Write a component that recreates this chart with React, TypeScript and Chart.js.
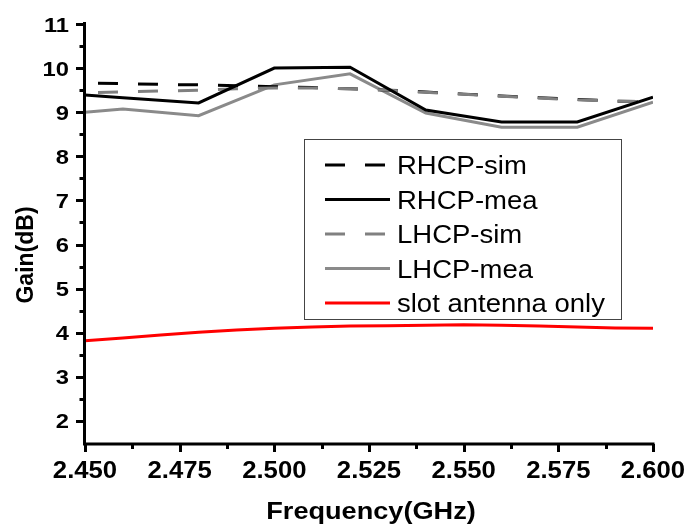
import React, { useEffect, useRef } from "react";
import { Chart, registerables } from "chart.js";

Chart.register(...registerables);

// ---- data ----
const SIM_FREQ = [2.45, 2.46, 2.47, 2.48, 2.49, 2.5, 2.51, 2.52, 2.53, 2.54, 2.55, 2.56, 2.57, 2.58, 2.59, 2.6];
const RHCP_SIM = [9.66, 9.65, 9.63, 9.62, 9.6, 9.58, 9.56, 9.53, 9.5, 9.46, 9.41, 9.37, 9.33, 9.29, 9.25, 9.24];
const LHCP_SIM = [9.44, 9.46, 9.48, 9.5, 9.53, 9.55, 9.55, 9.53, 9.5, 9.45, 9.41, 9.36, 9.32, 9.28, 9.25, 9.24];
const MEA_FREQ = [2.45, 2.46, 2.48, 2.5, 2.52, 2.54, 2.56, 2.58, 2.6];
const RHCP_MEA = [9.39, 9.33, 9.21, 10.0, 10.02, 9.05, 8.78, 8.78, 9.34];
const LHCP_MEA = [9.0, 9.07, 8.92, 9.62, 9.87, 8.98, 8.66, 8.66, 9.23];
const SLOT_ONLY = [3.82, 3.88, 3.95, 4.01, 4.06, 4.1, 4.13, 4.15, 4.16, 4.17, 4.18, 4.17, 4.15, 4.13, 4.11, 4.1];

const SERIES_LABELS = ["RHCP-sim", "RHCP-mea", "LHCP-sim", "LHCP-mea", "slot antenna only"];

const X_MIN = 2.45;
const X_MAX = 2.6;
const Y_MIN = 1.5;
const Y_MAX = 11;
const X_TICKS = [2.45, 2.475, 2.5, 2.525, 2.55, 2.575, 2.6];
const X_TICK_LABELS = ["2.450", "2.475", "2.500", "2.525", "2.550", "2.575", "2.600"];
const X_MINOR = [2.4625, 2.4875, 2.5125, 2.5375, 2.5625, 2.5875];
const Y_TICKS = [2, 3, 4, 5, 6, 7, 8, 9, 10, 11];
const Y_TICK_LABELS = ["2", "3", "4", "5", "6", "7", "8", "9", "10", "11"];
const Y_MINOR = [2.5, 3.5, 4.5, 5.5, 6.5, 7.5, 8.5, 9.5, 10.5];
const X_TITLE = "Frequency(GHz)";
const Y_TITLE = "Gain(dB)";

const FONT = "'Liberation Sans', Arial, Helvetica, sans-serif";
const SX = 1.13;

function pts(xs: number[], ys: number[]) {
  return xs.map((x, i) => ({ x, y: ys[i] }));
}

function drawText(
  ctx: CanvasRenderingContext2D,
  text: string,
  x: number,
  y: number,
  font: string,
  align: CanvasTextAlign,
  sx: number
) {
  ctx.save();
  ctx.font = font;
  ctx.fillStyle = "#000";
  ctx.translate(x, y);
  ctx.scale(sx, 1);
  ctx.textAlign = align;
  ctx.textBaseline = "alphabetic";
  ctx.fillText(text, 0, 0);
  ctx.restore();
}

const originPlugin = {
  id: "originAxes",
  afterDatasetsDraw(chart: any) {
    const ctx: CanvasRenderingContext2D = chart.ctx;
    const xs = chart.scales.x;
    const ys = chart.scales.y;
    const area = chart.chartArea;
    const axX = area.left - 0.5;
    const axY = area.bottom + 1;

    ctx.save();
    ctx.strokeStyle = "#000";
    ctx.lineWidth = 3;
    ctx.lineCap = "butt";
    // axis lines
    ctx.beginPath();
    ctx.moveTo(axX, area.top - 2);
    ctx.lineTo(axX, axY + 1.5);
    ctx.moveTo(axX - 1.5, axY);
    ctx.lineTo(area.right + 1.5, axY);
    ctx.stroke();

    // ticks
    ctx.beginPath();
    Y_TICKS.forEach((v) => {
      const py = Math.round(ys.getPixelForValue(v)) + 0.5;
      ctx.moveTo(axX - 8.5, py);
      ctx.lineTo(axX, py);
    });
    Y_MINOR.forEach((v) => {
      const py = Math.round(ys.getPixelForValue(v)) + 0.5;
      ctx.moveTo(axX - 5, py);
      ctx.lineTo(axX, py);
    });
    X_TICKS.forEach((v) => {
      const px = Math.round(xs.getPixelForValue(v)) + 0.5;
      ctx.moveTo(px, axY);
      ctx.lineTo(px, axY + 8);
    });
    X_MINOR.forEach((v) => {
      const px = Math.round(xs.getPixelForValue(v)) + 0.5;
      ctx.moveTo(px, axY);
      ctx.lineTo(px, axY + 5);
    });
    ctx.stroke();
    ctx.restore();

    // tick labels
    Y_TICKS.forEach((v, i) => {
      const py = ys.getPixelForValue(v);
      drawText(ctx, Y_TICK_LABELS[i], 69, py + 7.5, "bold 21px " + FONT, "right", SX);
    });
    X_TICKS.forEach((v, i) => {
      const px = xs.getPixelForValue(v);
      drawText(ctx, X_TICK_LABELS[i], px, 478, "bold 24px " + FONT, "center", 1.07);
    });

    // axis titles
    drawText(ctx, X_TITLE, (area.left + area.right) / 2 + 2, 519, "bold 24px " + FONT, "center", SX);
    ctx.save();
    ctx.translate(33, 255);
    ctx.rotate(-Math.PI / 2);
    ctx.font = "bold 23px " + FONT;
    ctx.fillStyle = "#000";
    ctx.textAlign = "center";
    ctx.textBaseline = "alphabetic";
    ctx.fillText(Y_TITLE, 0, 0);
    ctx.restore();

    // legend
    const bx = 304, by = 139, bw = 317, bh = 180;
    ctx.save();
    ctx.fillStyle = "#fff";
    ctx.fillRect(bx, by, bw, bh);
    ctx.strokeStyle = "#444";
    ctx.lineWidth = 1;
    ctx.strokeRect(bx + 0.5, by + 0.5, bw, bh);
    ctx.restore();
    chart.data.datasets.forEach((ds: any, i: number) => {
      const cy = 165 + i * 34.5;
      ctx.save();
      ctx.strokeStyle = ds.borderColor;
      ctx.lineWidth = 3;
      if (ds.borderDash && ds.borderDash.length) {
        ctx.setLineDash([20, 20]);
        ctx.beginPath();
        ctx.moveTo(325, cy);
        ctx.lineTo(385, cy);
        ctx.stroke();
      } else {
        ctx.beginPath();
        ctx.moveTo(325, cy);
        ctx.lineTo(390, cy);
        ctx.stroke();
      }
      ctx.restore();
      drawText(ctx, ds.label, 397, cy + 9, "25px " + FONT, "left", 1.1);
    });
  },
};

export default function App() {
  const ref = useRef<HTMLCanvasElement | null>(null);

  useEffect(() => {
    if (!ref.current) return;
    const dashed = { borderDash: [20, 20], borderDashOffset: 27 };
    const chart = new Chart(ref.current, {
      type: "line",
      data: {
        datasets: [
          { label: SERIES_LABELS[0], data: pts(SIM_FREQ, RHCP_SIM), borderColor: "#000000", ...dashed, order: 3 },
          { label: SERIES_LABELS[1], data: pts(MEA_FREQ, RHCP_MEA), borderColor: "#000000", order: 1 },
          { label: SERIES_LABELS[2], data: pts(SIM_FREQ, LHCP_SIM), borderColor: "#808080", ...dashed, order: 2 },
          { label: SERIES_LABELS[3], data: pts(MEA_FREQ, LHCP_MEA), borderColor: "#8a8a8a", order: 4 },
          { label: SERIES_LABELS[4], data: pts(SIM_FREQ, SLOT_ONLY), borderColor: "#ff0000", order: 5 },
        ].map((d) => ({
          ...d,
          borderWidth: 3,
          pointRadius: 0,
          tension: 0,
          fill: false,
          borderCapStyle: "butt" as const,
          borderJoinStyle: "miter" as const,
        })),
      },
      options: {
        responsive: false,
        animation: false,
        devicePixelRatio: 1,
        layout: { padding: { left: 85, right: 31, top: 24, bottom: 81 } },
        plugins: { legend: { display: false }, tooltip: { enabled: false } },
        scales: {
          x: { type: "linear", min: X_MIN, max: X_MAX, display: false },
          y: { type: "linear", min: Y_MIN, max: Y_MAX, display: false },
        },
      },
      plugins: [originPlugin],
    });
    return () => chart.destroy();
  }, []);

  return (
    <div style={{ position: "absolute", left: 0, top: 0, width: 684, height: 524, background: "#fff" }}>
      <canvas ref={ref} width={684} height={524} />
    </div>
  );
}
